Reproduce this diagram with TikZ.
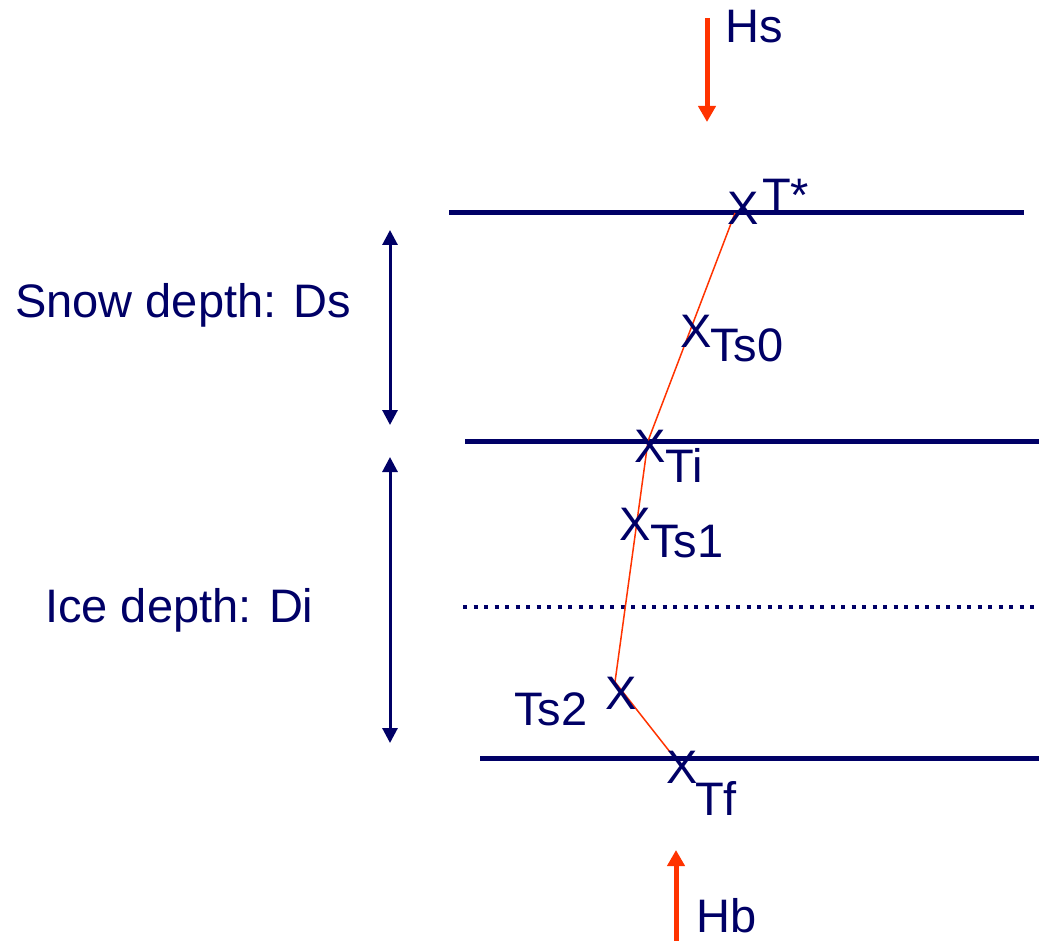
\documentclass[tikz,border=0pt]{standalone}
\usepackage{fontspec}
\setmainfont{Liberation Sans}
\usetikzlibrary{arrows.meta}
\definecolor{navy}{RGB}{0,0,102}
\definecolor{hred}{RGB}{255,51,0}
\begin{document}
\begin{tikzpicture}[x=1pt,y=-1pt,
  lbl/.style={inner sep=0pt,anchor=base west,text=navy,font=\fontsize{47}{50}\selectfont},
  layer/.style={draw=navy,line width=5pt},
  depth/.style={draw=navy,line width=3pt,{Triangle[length=15pt,width=15pt]}-{Triangle[length=15pt,width=15pt]}},
  flux/.style={draw=hred,line width=5pt,-{Triangle[length=16pt,width=17pt]}},
  profile/.style={draw=hred,line width=1.5pt}]
\useasboundingbox (0,0) rectangle (1039,941);
% layer boundaries
\coordinate (l1a) at (449,213); \coordinate (l1b) at (1024,213);
\coordinate (l2a) at (465,441); \coordinate (l2b) at (1039,441);
\coordinate (l3a) at (463,607); \coordinate (l3b) at (1039,607);
\coordinate (l4a) at (480,758); \coordinate (l4b) at (1039,758);
\draw[layer] (l1a) -- (l1b);
\draw[layer] (l2a) -- (l2b);
\draw[draw=navy,line width=4pt,dash pattern=on 4pt off 6.5pt] (l3a) -- (l3b);
\draw[layer] (l4a) -- (l4b);
% depth arrows
\coordinate (s1) at (390,230); \coordinate (s2) at (390,425);
\coordinate (i1) at (390,457); \coordinate (i2) at (390,743);
\draw[depth] (s1) -- (s2);
\draw[depth] (i1) -- (i2);
\node[lbl] (snow) at (15,318) {Snow depth: Ds};
\node[lbl] (ice) at (45,622) {Ice depth: Di};
% fluxes
\coordinate (hs1) at (707,18); \coordinate (hs2) at (707,122);
\coordinate (hb1) at (676,941); \coordinate (hb2) at (676,850);
\draw[flux] (hs1) -- (hs2);
\draw[flux] (hb1) -- (hb2);
\node[lbl] (hs) at (725,43) {Hs};
\node[lbl] (hb) at (696,932) {Hb};
% temperature profile
\coordinate (pT) at (735,213);
\coordinate (pTi) at (648,441);
\coordinate (pTs2) at (615,682);
\coordinate (pTf) at (670,752);
\draw[profile] (pT) -- (pTi) -- (pTs2) -- (pTf);
% markers and labels
\node[lbl] (xT) at (727,225) {X};
\node[lbl] (tT) at (762,212) {T*};
\node[lbl] (xTs0) at (680,348) {X};
\node[lbl] (tTs0) at (710,362) {Ts0};
\node[lbl] (xTi) at (634,462) {X};
\node[lbl] (tTi) at (665,482) {Ti};
\node[lbl] (xTs1) at (619,540) {X};
\node[lbl] (tTs1) at (650,557) {Ts1};
\node[lbl] (xTs2) at (605,709) {X};
\node[lbl] (tTs2) at (514,725) {Ts2};
\node[lbl] (xTf) at (666,783) {X};
\node[lbl] (tTf) at (695,815) {Tf};
\end{tikzpicture}
\end{document}
